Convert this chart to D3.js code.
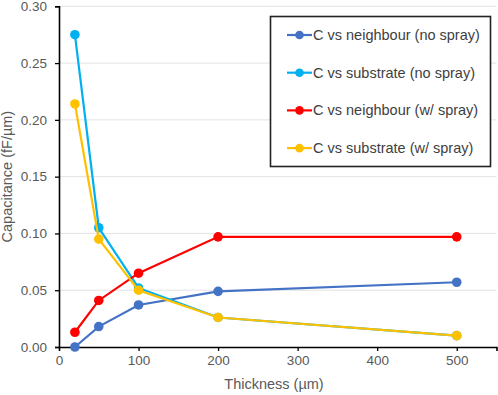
<!DOCTYPE html>
<html>
<head>
<meta charset="utf-8">
<script src="https://cdn.jsdelivr.net/npm/d3@7"></script>
<style>
  body { margin: 0; background: #fff; }
  svg { display: block; font-family: "Liberation Sans", Arial, sans-serif; }
</style>
</head>
<body>
<svg id="chart" width="498" height="395"></svg>
<script>
// thickness values (µm)
const thickness = [20, 50, 100, 200, 500];
const seriesNames = [
  "C vs neighbour (no spray)",
  "C vs substrate (no spray)",
  "C vs neighbour (w/ spray)",
  "C vs substrate (w/ spray)"
];
const seriesColors = ["#4472C4", "#00B0F0", "#FF0000", "#FFC000"];
const neighbourNoSpray = [0.000, 0.018, 0.037, 0.049, 0.057];
const substrateNoSpray = [0.275, 0.105, 0.052, 0.026, 0.010];
const neighbourSpray = [0.013, 0.041, 0.065, 0.097, 0.097];
const substrateSpray = [0.214, 0.095, 0.050, 0.026, 0.010];
const xTicks = [0, 100, 200, 300, 400, 500];
const yTicks = [0, 0.05, 0.10, 0.15, 0.20, 0.25, 0.30];

const seriesValues = [neighbourNoSpray, substrateNoSpray, neighbourSpray, substrateSpray];

const svg = d3.select('#chart');

const x = d3.scaleLinear().domain([0, 550]).range([59, 496.5]);
const y = d3.scaleLinear().domain([0, 0.30]).range([347, 6.3]);

// gridlines
svg.append('g')
  .selectAll('line')
  .data(yTicks.filter(d => d > 0))
  .join('line')
  .attr('x1', x(0)).attr('x2', x(550))
  .attr('y1', d => y(d)).attr('y2', d => y(d))
  .attr('stroke', '#e3e3e3')
  .attr('stroke-width', 1);

// axes
const xAxis = svg.append('g')
  .attr('transform', `translate(0,${y(0)})`)
  .call(d3.axisBottom(x).tickValues(xTicks).tickFormat(d3.format('d')).tickSize(4).tickPadding(4));
const yAxis = svg.append('g')
  .attr('transform', `translate(${x(0)},0)`)
  .call(d3.axisLeft(y).tickValues(yTicks).tickFormat(d3.format('.2f')).tickSize(4).tickPadding(8));

[xAxis, yAxis].forEach(a => {
  a.select('.domain').attr('stroke', '#000').attr('stroke-width', 1.6);
  a.selectAll('.tick line').attr('stroke', '#000').attr('stroke-width', 1.3);
  a.selectAll('.tick text').attr('fill', '#595959').style('font-size', '13.5px')
    .style('font-family', '"Liberation Sans", Arial, sans-serif');
});
xAxis.selectAll('.tick').filter(d => d === 0).select('line').remove();

// axis titles
svg.append('text')
  .attr('x', 274).attr('y', 389)
  .attr('text-anchor', 'middle')
  .attr('fill', '#595959')
  .style('font-size', '14.5px')
  .text('Thickness (µm)');

svg.append('text')
  .attr('transform', `translate(12,${(y(0) + y(0.30)) / 2}) rotate(-90)`)
  .attr('text-anchor', 'middle')
  .attr('fill', '#595959')
  .style('font-size', '14.5px')
  .text('Capacitance (fF/µm)');

// series
const line = d3.line().x((d, i) => x(thickness[i])).y(d => y(d));
seriesValues.forEach((vals, s) => {
  const g = svg.append('g');
  g.append('path')
    .datum(vals)
    .attr('d', line)
    .attr('fill', 'none')
    .attr('stroke', seriesColors[s])
    .attr('stroke-width', 2.2);
  g.selectAll('circle')
    .data(vals)
    .join('circle')
    .attr('cx', (d, i) => x(thickness[i]))
    .attr('cy', d => y(d))
    .attr('r', 4.8)
    .attr('fill', seriesColors[s]);
});

// legend
const legend = svg.append('g');
legend.append('rect')
  .attr('x', 270.5).attr('y', 16.5)
  .attr('width', 220).attr('height', 150)
  .attr('fill', '#fff')
  .attr('stroke', '#222')
  .attr('stroke-width', 1.6);

const rows = legend.selectAll('g.row')
  .data(seriesNames)
  .join('g')
  .attr('class', 'row')
  .attr('transform', (d, i) => `translate(0,${35 + i * 37.7})`);
rows.append('line')
  .attr('x1', 287).attr('x2', 312)
  .attr('stroke', (d, i) => seriesColors[i])
  .attr('stroke-width', 2.2);
rows.append('circle')
  .attr('cx', 299.5).attr('r', 4.3)
  .attr('fill', (d, i) => seriesColors[i]);
rows.append('text')
  .attr('x', 313).attr('dy', '0.35em')
  .attr('fill', '#404040')
  .style('font-size', '14.5px')
  .text(d => d);
</script>
</body>
</html>
